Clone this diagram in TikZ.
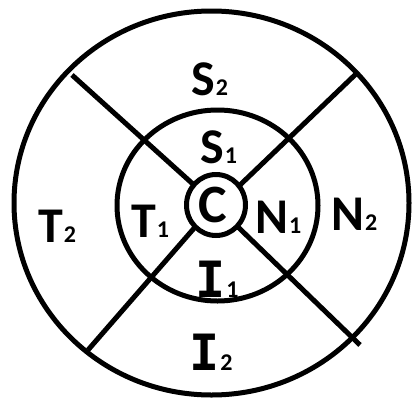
\documentclass[tikz,border=0pt]{standalone}
\usepackage{fontspec}
\setmainfont{Carlito}
\newfontfamily\monoI{DejaVu Sans Mono}
\begin{document}
\begin{tikzpicture}[x=1pt,y=-1pt,
  ring/.style={line width=5pt},
  spoke/.style={line width=5pt},
  lab/.style={anchor=base west,inner sep=0pt,font=\bfseries\fontsize{50}{52}\selectfont},
  bigc/.style={anchor=base west,inner sep=0pt,font=\bfseries\fontsize{54}{56}\selectfont}]
\newcommand{\sbs}[1]{\hspace{1pt}{\fontsize{24}{26}\selectfont #1}}
\useasboundingbox (0,0) rectangle (417,402);
\draw[ring] (211.5,203) ellipse [x radius=197.5, y radius=192];
\draw[ring] (217.5,205.5) ellipse [x radius=100.5, y radius=95.5];
\draw[ring] (216,205) ellipse [x radius=29.5, y radius=30.5];
\coordinate (ul) at (72,75);   \coordinate (ulc) at (194,185);
\coordinate (ur) at (358,72);  \coordinate (urc) at (240,185);
\coordinate (ll) at (88,350);  \coordinate (llc) at (196,226);
\coordinate (lr) at (360,345); \coordinate (lrc) at (238,227);
\draw[spoke] (ul) -- (ulc);
\draw[spoke] (ur) -- (urc);
\draw[spoke] (ll) -- (llc);
\draw[spoke] (lr) -- (lrc);
\node[lab] (s2) at (191,95) {S\sbs{2}};
\node[lab] (s1) at (200,163) {S\sbs{1}};
\node[bigc] (c) at (198,222) {C};
\node[lab] (t1) at (131,237) {T\sbs{1}};
\node[lab] (n1) at (255,233) {N\sbs{1}};
\node[lab] (n2) at (331,230) {N\sbs{2}};
\node[lab] (t2) at (38,242) {T\sbs{2}};
\node[lab] (i1) at (195,297) {{\monoI I}\sbs{1}};
\node[lab] (i2) at (189,370) {{\monoI I}\sbs{2}};
\end{tikzpicture}
\end{document}
